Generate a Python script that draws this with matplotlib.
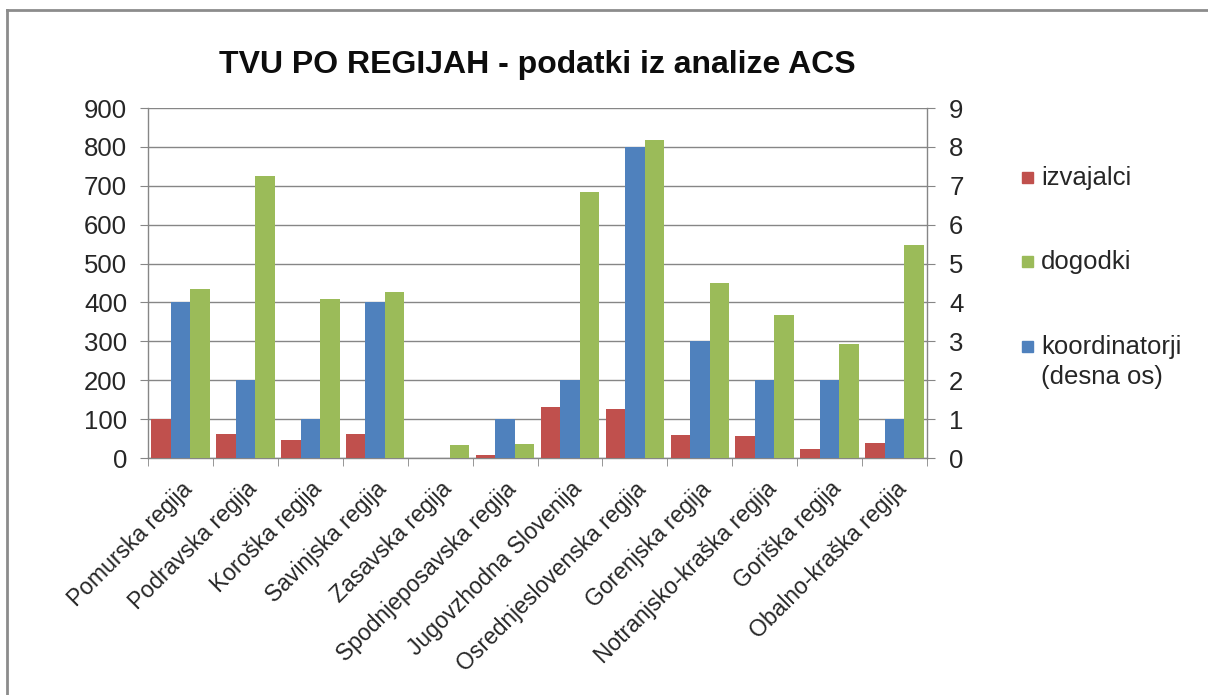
import matplotlib
matplotlib.use("Agg")
import matplotlib.pyplot as plt
import numpy as np
from matplotlib.patches import Rectangle
from matplotlib.lines import Line2D

plt.rcParams['font.family'] = ['Liberation Sans', 'DejaVu Sans']

categories = ["Pomurska regija", "Podravska regija", "Koroška regija", "Savinjska regija",
              "Zasavska regija", "Spodnjeposavska regija", "Jugovzhodna Slovenija",
              "Osrednjeslovenska regija", "Gorenjska regija", "Notranjsko-kraška regija",
              "Goriška regija", "Obalno-kraška regija"]
izvajalci = [101, 63, 47, 63, 0, 7, 131, 125, 58, 56, 24, 39]
dogodki = [435, 726, 410, 427, 33, 37, 685, 817, 451, 369, 293, 548]
koordinatorji = [4, 2, 1, 4, 0, 1, 2, 8, 3, 2, 2, 1]

left_ticks = list(range(0, 1000, 100))
right_ticks = list(range(0, 10))

RED = "#C0504D"
GREEN = "#9BBB59"
BLUE = "#4F81BD"
GRID = "#868686"

W, H = 1208, 695
fig = plt.figure(figsize=(W / 100, H / 100), dpi=100)
ax = fig.add_axes([148 / W, 1 - 458 / H, (927 - 148) / W, (458 - 108) / H])
ax2 = ax.twinx()

x = np.arange(len(categories))
bw = 0.3
ax.bar(x - 0.3, izvajalci, bw, color=RED, zorder=3)
ax.bar(x + 0.3, dogodki, bw, color=GREEN, zorder=3)
ax2.bar(x, koordinatorji, bw, color=BLUE, zorder=3)

ax.set_xlim(-0.5, len(categories) - 0.5)
ax.set_ylim(0, 900)
ax2.set_ylim(0, 9)
ax.set_yticks(left_ticks)
ax2.set_yticks(right_ticks)
ax.yaxis.grid(True, color=GRID, linewidth=1.0, zorder=0)
ax.set_axisbelow(True)

for a in (ax, ax2):
    for s in a.spines.values():
        s.set_color(GRID)
        s.set_linewidth(1.0)
    a.spines['top'].set_visible(False)
ax.spines['right'].set_visible(False)
ax2.spines['left'].set_visible(False)
ax2.spines['bottom'].set_visible(False)

ax.tick_params(axis='y', direction='out', length=6, color=GRID, labelsize=18.5, pad=9, labelcolor='#262626')
ax2.tick_params(axis='y', direction='out', length=6, color=GRID, labelsize=18.5, pad=10, labelcolor='#262626')

ax.set_xticks(x)
ax.set_xticklabels(categories, rotation=45, ha='right', rotation_mode='anchor', fontsize=16.5, color='#262626')
ax.tick_params(axis='x', which='major', length=0, pad=14)
ax.set_xticks(np.arange(-0.5, len(categories)), minor=True)
ax.tick_params(axis='x', which='minor', direction='out', length=6, color=GRID)

fig.text(537 / W, 1 - 65 / H, "TVU PO REGIJAH - podatki iz analize ACS", ha='center', va='center',
         fontsize=23, fontweight='bold', color='#0d0d0d')

# legend (manual)
leg_items = [("izvajalci", RED, 178), ("dogodki", GREEN, 262), ("koordinatorji", BLUE, 347)]
for label, col, yc in leg_items:
    fig.patches.append(Rectangle(((1022) / W, 1 - (yc + 5) / H), 11 / W, 11 / H,
                                 transform=fig.transFigure, color=col, figure=fig))
    fig.text(1041 / W, 1 - yc / H, label, ha='left', va='center', fontsize=18.5, color='#262626')
fig.text(1041 / W, 1 - 377 / H, "(desna os)", ha='left', va='center', fontsize=18.5, color='#262626')

# outer frame
fig.lines.append(Line2D([7 / W, 7 / W], [0, 1 - 10 / H], transform=fig.transFigure, color='#8c8c8c', linewidth=2))
fig.lines.append(Line2D([7 / W, 1], [1 - 10 / H, 1 - 10 / H], transform=fig.transFigure, color='#8c8c8c', linewidth=2))

fig.savefig("out.png", dpi=100, facecolor='white')
